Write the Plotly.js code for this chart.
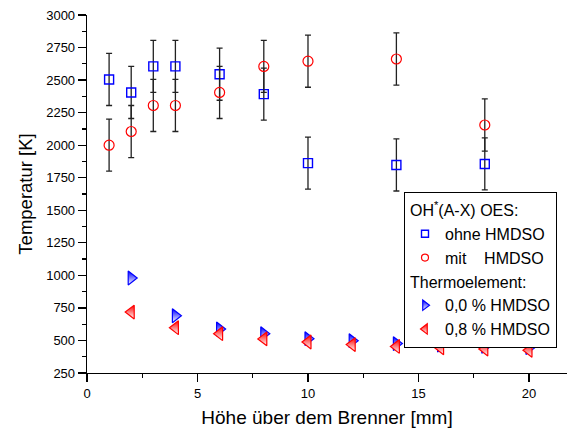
<!DOCTYPE html>
<html>
<head>
<meta charset="utf-8">
<script src="https://cdn.plot.ly/plotly-3.0.1.min.js"></script>
<style>html,body{margin:0;padding:0;background:#fff;}#chart{width:567px;height:430px;}</style>
</head>
<body>
<div id="chart"></div>
<script>
// OES measurements (OH*(A-X))
const oesX = [1, 2, 3, 4, 6, 8, 10, 14, 18];
const ohneHMDSO = [2505, 2405, 2605, 2605, 2545, 2392, 1862, 1848, 1856];
const mitHMDSO = [2000, 2105, 2305, 2305, 2405, 2605, 2645, 2662, 2155];
const oesErr = [200, 200, 200, 200, 200, 200, 200, 200, 200];

// Thermoelement measurements
const teX = [2, 4, 6, 8, 10, 12, 14, 16, 18, 20];
const te00 = [980, 690, 588, 552, 514, 498, 476, 465, 455, 445];
const te08 = [718, 598, 552, 512, 488, 468, 454, 444, 434, 424];

const seriesNames = ['ohne HMDSO', 'mit\u00A0\u00A0\u00A0\u00A0HMDSO', '0,0 % HMDSO', '0,8 % HMDSO'];
const groupTitles = ['OH<sup>*</sup>(A-X) OES:', 'Thermoelement:'];

const xTicks = [0, 5, 10, 15, 20];
const yTicks = [250, 500, 750, 1000, 1250, 1500, 1750, 2000, 2250, 2500, 2750, 3000];

const FONT = "Liberation Sans, Arial, sans-serif";
const BLUE = '#0000ff', RED = '#ff0000';
const errStyle = {type: 'data', visible: true, color: '#222', thickness: 1.3, width: 3};

const mSquare = s => ({symbol: 'square-open', size: s, color: BLUE, line: {width: 1.4, color: BLUE}});
const mCircle = s => ({symbol: 'circle-open', size: s, color: RED, line: {width: 1.2, color: RED}});
const mTriR = s => ({symbol: 'triangle-right', size: s, color: BLUE, line: {width: 1.2, color: BLUE},
  gradient: {type: 'vertical', color: '#ffffff'}});
const mTriL = s => ({symbol: 'triangle-left', size: s, color: RED, line: {width: 1.2, color: RED},
  gradient: {type: 'vertical', color: '#ffffff'}});

const traces = [
  {x: oesX, y: ohneHMDSO, type: 'scatter', mode: 'markers', showlegend: false,
   marker: mSquare(9), error_y: Object.assign({array: oesErr}, errStyle)},
  {x: oesX, y: mitHMDSO, type: 'scatter', mode: 'markers', showlegend: false,
   marker: mCircle(10), error_y: Object.assign({array: oesErr}, errStyle)},
  {x: teX, y: te00, type: 'scatter', mode: 'markers', showlegend: false, marker: mTriR(12)},
  {x: teX, y: te08, type: 'scatter', mode: 'markers', showlegend: false, marker: mTriL(12)},
  // legend entries (no data drawn)
  {x: [null], y: [null], type: 'scatter', mode: 'markers', name: seriesNames[0], legendgroup: 'oes',
   legendgrouptitle: {text: groupTitles[0], font: {family: FONT, size: 16, color: '#000'}}, marker: mSquare(7)},
  {x: [null], y: [null], type: 'scatter', mode: 'markers', name: seriesNames[1], legendgroup: 'oes', marker: mCircle(7)},
  {x: [null], y: [null], type: 'scatter', mode: 'markers', name: seriesNames[2], legendgroup: 'te',
   legendgrouptitle: {text: groupTitles[1], font: {family: FONT, size: 16, color: '#000'}}, marker: mTriR(9)},
  {x: [null], y: [null], type: 'scatter', mode: 'markers', name: seriesNames[3], legendgroup: 'te', marker: mTriL(9)}
];

const axisCommon = {
  showgrid: false, zeroline: false, showline: true, linecolor: '#000', linewidth: 1.3,
  ticks: 'outside', ticklen: 8, tickwidth: 1.2, tickcolor: '#000',
  tickfont: {family: FONT, size: 13, color: '#000'}, mirror: false
};

const layout = {
  width: 567, height: 430,
  margin: {l: 87, r: 0, t: 15, b: 57, pad: 0},
  paper_bgcolor: '#fff', plot_bgcolor: '#fff',
  font: {family: FONT, color: '#000'},
  showlegend: true,
  legend: {
    x: 0.66, y: 0.506, xanchor: 'left', yanchor: 'top',
    bordercolor: '#000', borderwidth: 1.2, bgcolor: '#fff',
    font: {family: FONT, size: 16, color: '#000'},
    tracegroupgap: 0, itemsizing: 'trace', traceorder: 'grouped'
  },
  xaxis: Object.assign({}, axisCommon, {
    range: [0, 21.72], tickvals: xTicks, ticktext: xTicks.map(String),
    minor: {dtick: 2.5, tick0: 0, ticks: 'outside', ticklen: 4, tickwidth: 1.2, tickcolor: '#000'},
    title: {text: 'Höhe über dem Brenner [mm]', font: {family: FONT, size: 19, color: '#000'}, standoff: 10}
  }),
  yaxis: Object.assign({}, axisCommon, {
    range: [250, 3000], tickvals: yTicks, ticktext: yTicks.map(String),
    minor: {dtick: 125, tick0: 250, ticks: 'outside', ticklen: 4, tickwidth: 1.2, tickcolor: '#000'},
    title: {text: 'Temperatur [K]', font: {family: FONT, size: 18.5, color: '#000'}, standoff: 8}
  })
};

Plotly.newPlot('chart', traces, layout, {displayModeBar: false, staticPlot: true});
</script>
</body>
</html>
